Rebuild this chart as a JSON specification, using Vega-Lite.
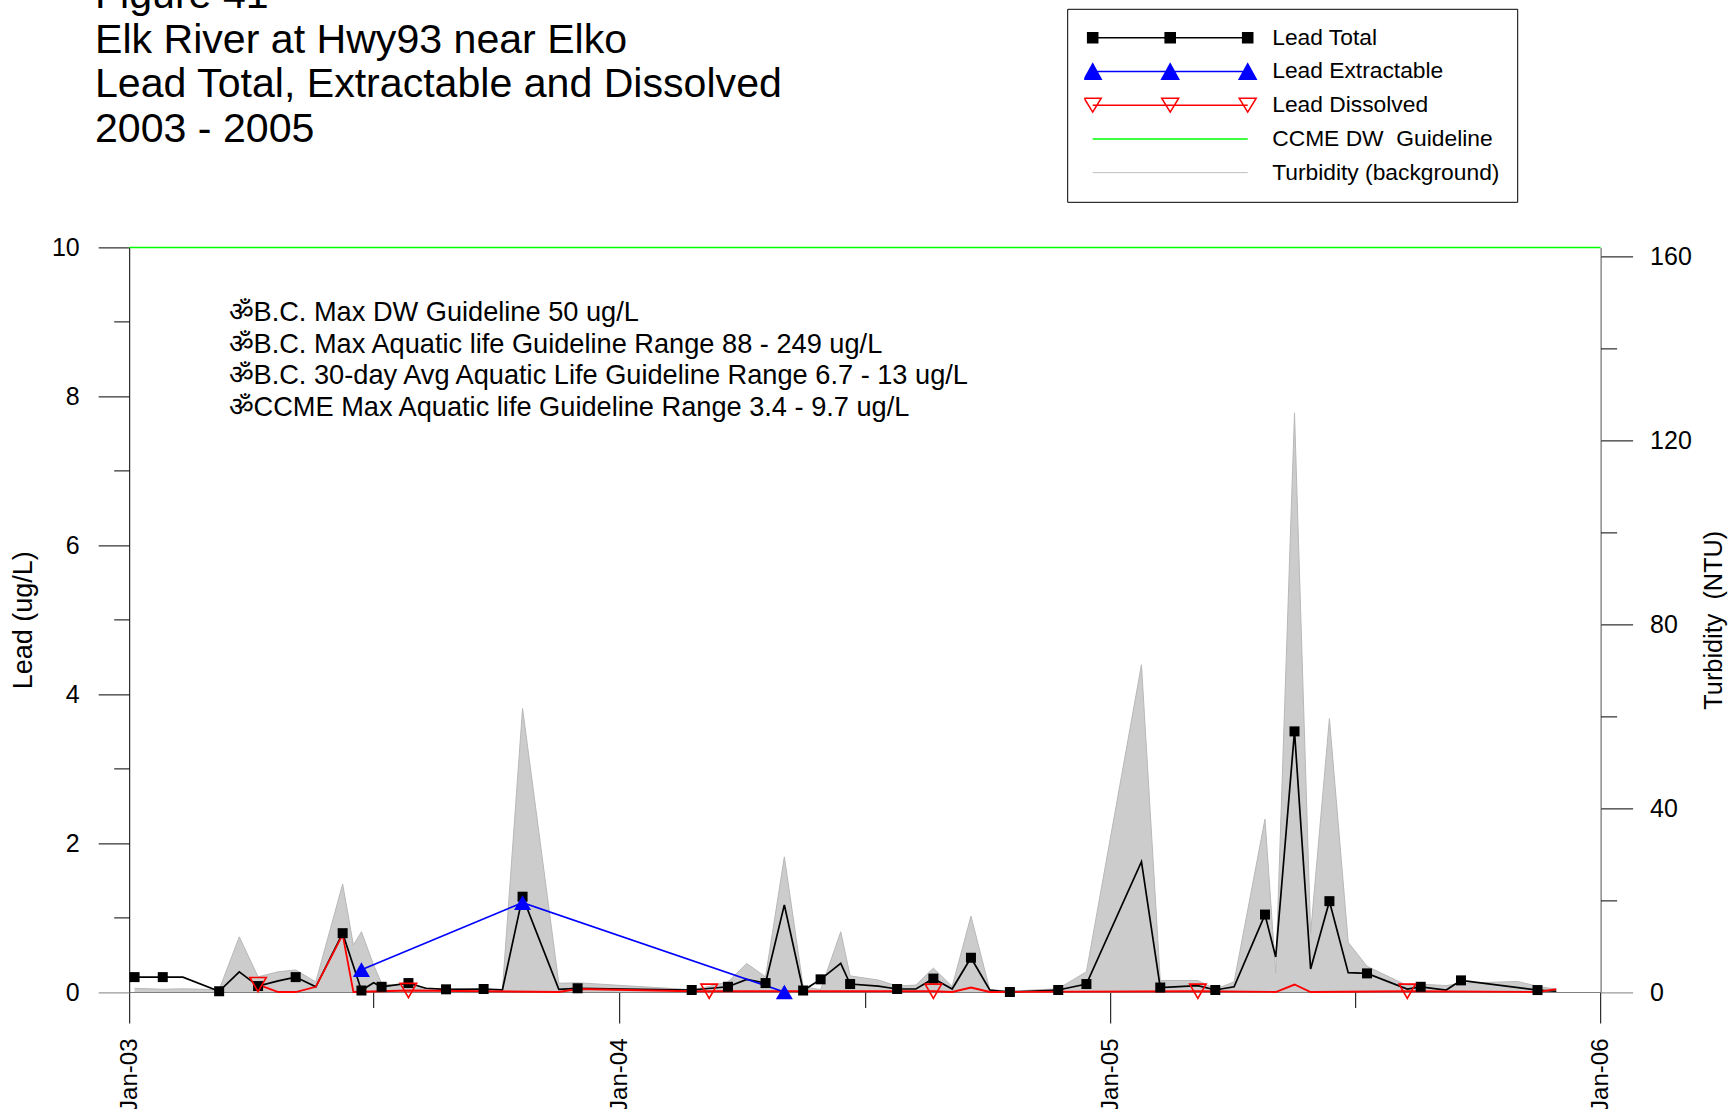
{
  "$schema": "https://vega.github.io/schema/vega-lite/v6.json",
  "width": 1471.4,
  "height": 744.6,
  "autosize": {"type": "none"},
  "padding": {"left": 129.2, "top": 247.4, "right": 131.4, "bottom": 117},
  "background": "white",
  "config": {
    "font": "Liberation Sans",
    "view": {"stroke": null},
    "axis": {"labelFont": "Liberation Sans", "titleFont": "Liberation Sans", "labelColor": "black", "titleColor": "black", "tickColor": "black", "domainColor": "black", "grid": false, "tickWidth": 1, "domainWidth": 1, "titleFontWeight": "normal"}
  },
  "title": {
    "text": ["Figure 41", "Elk River at Hwy93 near Elko", "Lead Total, Extractable and Dissolved", "2003 - 2005"],
    "anchor": "start", "frame": "group", "orient": "top",
    "font": "Liberation Sans", "fontSize": 41.1, "fontWeight": "normal", "lineHeight": 44.7,
    "color": "black", "dx": -34.2, "offset": 0, "dy": 143
  },
  "datasets": {
    "obs": [
      {"date": "2003-01-05", "total": 0.2, "symbol": true, "turbidity": 0.8},
      {"date": "2003-01-26", "total": 0.2, "symbol": true, "turbidity": 0.6},
      {"date": "2003-02-10", "total": 0.2, "symbol": false, "turbidity": 0.7},
      {"date": "2003-03-09", "total": 0.01, "symbol": true, "turbidity": 0.5},
      {"date": "2003-03-24", "total": 0.27, "symbol": false, "turbidity": 12.0},
      {"date": "2003-04-07", "total": 0.08, "symbol": true, "turbidity": 3.3, "dissolved": 0.1, "dsymbol": true},
      {"date": "2003-04-22", "total": 0.15, "symbol": false, "turbidity": 4.4, "dissolved": 0.0},
      {"date": "2003-05-05", "total": 0.2, "symbol": true, "turbidity": 4.8, "dissolved": 0.0},
      {"date": "2003-05-20", "total": 0.07, "symbol": false, "turbidity": 2.2, "dissolved": 0.07},
      {"date": "2003-06-09", "total": 0.79, "symbol": true, "turbidity": 23.5, "dissolved": 0.77},
      {"date": "2003-06-17", "turbidity": 10.2, "dissolved": 0.0},
      {"date": "2003-06-23", "total": 0.02, "symbol": true, "turbidity": 13.1, "extractable": 0.3},
      {"date": "2003-07-02", "total": 0.125, "symbol": false, "turbidity": 5.9},
      {"date": "2003-07-08", "total": 0.07, "symbol": true, "turbidity": 1.9},
      {"date": "2003-07-28", "total": 0.12, "symbol": true, "turbidity": 1.0, "dissolved": 0.02, "dsymbol": true},
      {"date": "2003-08-10", "total": 0.05, "symbol": false, "turbidity": 0.8},
      {"date": "2003-08-25", "total": 0.036, "symbol": true, "turbidity": 0.6},
      {"date": "2003-09-22", "total": 0.04, "symbol": true, "turbidity": 0.5},
      {"date": "2003-10-06", "total": 0.03, "symbol": false, "turbidity": 0.5},
      {"date": "2003-10-21", "total": 1.28, "symbol": true, "turbidity": 61.7, "extractable": 1.2},
      {"date": "2003-11-17", "total": 0.036, "symbol": false, "turbidity": 1.9, "dissolved": 0.0},
      {"date": "2003-12-01", "total": 0.05, "symbol": true, "turbidity": 2.0, "dissolved": 0.04},
      {"date": "2004-02-24", "total": 0.027, "symbol": true, "turbidity": 0.5, "dissolved": 0.01},
      {"date": "2004-03-08", "turbidity": 1.2, "dissolved": 0.01, "dsymbol": true},
      {"date": "2004-03-22", "total": 0.07, "symbol": true, "turbidity": 2.2},
      {"date": "2004-04-05", "total": 0.17, "symbol": false, "turbidity": 6.2},
      {"date": "2004-04-19", "total": 0.12, "symbol": true, "turbidity": 3.3},
      {"date": "2004-05-03", "total": 1.17, "symbol": false, "turbidity": 29.4, "extractable": 0.0},
      {"date": "2004-05-17", "total": 0.02, "symbol": true, "turbidity": 1.2},
      {"date": "2004-05-30", "total": 0.17, "symbol": true, "turbidity": 0.5},
      {"date": "2004-06-14", "total": 0.385, "symbol": false, "turbidity": 13.1},
      {"date": "2004-06-21", "total": 0.107, "symbol": true, "turbidity": 3.5},
      {"date": "2004-07-12", "total": 0.08, "symbol": false, "turbidity": 2.6},
      {"date": "2004-07-26", "total": 0.04, "symbol": true, "turbidity": 1.3},
      {"date": "2004-08-09", "total": 0.04, "symbol": false, "turbidity": 1.5},
      {"date": "2004-08-22", "total": 0.18, "symbol": true, "turbidity": 5.2, "dissolved": 0.01, "dsymbol": true},
      {"date": "2004-09-05", "total": 0.04, "symbol": false, "turbidity": 1.2, "dissolved": 0.0},
      {"date": "2004-09-19", "total": 0.46, "symbol": true, "turbidity": 16.5, "dissolved": 0.06},
      {"date": "2004-10-03", "total": 0.027, "symbol": false, "turbidity": 0.5, "dissolved": 0.0},
      {"date": "2004-10-18", "total": 0.0, "symbol": true, "turbidity": 0.2},
      {"date": "2004-11-23", "total": 0.027, "symbol": true, "turbidity": 0.7},
      {"date": "2004-12-14", "total": 0.107, "symbol": true, "turbidity": 4.4},
      {"date": "2005-01-24", "total": 1.75, "symbol": false, "turbidity": 71.2},
      {"date": "2005-02-07", "total": 0.06, "symbol": true, "turbidity": 2.5},
      {"date": "2005-03-07", "total": 0.085, "symbol": false, "turbidity": 2.5, "dissolved": 0.01, "dsymbol": true},
      {"date": "2005-03-20", "total": 0.027, "symbol": true, "turbidity": 0.6},
      {"date": "2005-04-03", "total": 0.07, "symbol": false, "turbidity": 2.2},
      {"date": "2005-04-26", "total": 1.04, "symbol": true, "turbidity": 37.6},
      {"date": "2005-05-04", "total": 0.47, "symbol": false, "turbidity": 4.2, "dissolved": 0.0},
      {"date": "2005-05-18", "total": 3.5, "symbol": true, "turbidity": 126.0, "dissolved": 0.1},
      {"date": "2005-05-30", "total": 0.31, "symbol": false, "turbidity": 12.8, "dissolved": 0.0},
      {"date": "2005-06-13", "total": 1.22, "symbol": true, "turbidity": 59.5},
      {"date": "2005-06-27", "total": 0.26, "symbol": false, "turbidity": 10.8},
      {"date": "2005-07-11", "total": 0.25, "symbol": true, "turbidity": 5.6},
      {"date": "2005-08-10", "total": 0.04, "symbol": false, "turbidity": 1.4, "dissolved": 0.01, "dsymbol": true},
      {"date": "2005-08-20", "total": 0.07, "symbol": true, "turbidity": 1.7},
      {"date": "2005-09-08", "total": 0.026, "symbol": false, "turbidity": 1.4},
      {"date": "2005-09-19", "total": 0.156, "symbol": true, "turbidity": 1.9},
      {"date": "2005-10-31", "turbidity": 2.3},
      {"date": "2005-11-15", "total": 0.026, "symbol": true, "turbidity": 1.25, "dissolved": 0.0},
      {"date": "2005-11-29", "total": 0.01, "symbol": false, "turbidity": 0.6, "dissolved": 0.04}
    ]
  },
  "data": {"name": "obs"},
  "layer": [
    {
      "layer": [
        {
          "mark": {"type": "area", "fill": "#cccccc", "stroke": null, "opacity": 1},
          "encoding": {
            "x": {"field": "date", "type": "temporal",
              "scale": {"type": "utc", "domain": [{"year": 2003, "month": 1, "date": 1, "utc": true}, {"year": 2006, "month": 1, "date": 1, "utc": true}]},
              "axis": {"orient": "bottom", "values": [{"year": 2003, "month": 1, "date": 1, "utc": true}, {"year": 2004, "month": 1, "date": 1, "utc": true}, {"year": 2005, "month": 1, "date": 1, "utc": true}, {"year": 2006, "month": 1, "date": 1, "utc": true}],
                "format": "%b-%y", "labelAngle": 270, "tickSize": 31, "labelPadding": 15, "labelFontSize": 24, "title": null, "domainColor": "#808080", "labelOverlap": false, "labelFlush": false}},
            "y": {"field": "turbidity", "type": "quantitative",
              "scale": {"domain": [0, 162], "nice": false, "zero": true},
              "axis": {"orient": "right", "values": [0, 40, 80, 120, 160], "tickSize": 32, "labelPadding": 17, "labelFontSize": 25,
                "title": "Turbidity\u00a0 (NTU)", "titleFontSize": 25.3, "titleAngle": 270, "titleBaseline": "top", "titlePadding": 10, "domainColor": "#505050",
                "tickColor": {"condition": {"test": "datum.value === 0", "value": "#808080"}, "value": "black"}}}
          }
        },
        {
          "mark": {"type": "line", "stroke": "#b8b8b8", "strokeWidth": 1},
          "encoding": {
            "x": {"field": "date", "type": "temporal", "scale": {"type": "utc"},
              "axis": {"orient": "bottom", "values": [{"year": 2003, "month": 7, "date": 2, "utc": true}, {"year": 2004, "month": 7, "date": 2, "utc": true}, {"year": 2005, "month": 7, "date": 2, "utc": true}],
                "tickSize": 15.5, "labels": false, "domain": false, "title": null}},
            "y": {"field": "turbidity", "type": "quantitative",
              "axis": {"orient": "right", "values": [20, 60, 100, 140], "tickSize": 16, "labels": false, "domain": false, "title": null}}
          }
        }
      ],
      "resolve": {"axis": {"x": "independent", "y": "independent"}}
    },
    {
      "layer": [
        {
          "transform": [{"filter": "isValid(datum.total)"}],
          "mark": {"type": "line", "strokeWidth": 1.7},
          "encoding": {
            "x": {"field": "date", "type": "temporal", "scale": {"type": "utc"}, "axis": null},
            "y": {"field": "total", "type": "quantitative",
              "scale": {"domain": [0, 10], "nice": false},
              "axis": {"orient": "left", "values": [0, 2, 4, 6, 8, 10], "tickSize": 31, "labelPadding": 19, "labelFontSize": 25,
                "title": "Lead (ug/L)", "titleFontSize": 27, "titlePadding": 14,
                "tickColor": {"condition": {"test": "datum.value === 0", "value": "#808080"}, "value": "black"}}},
            "color": {"datum": "Lead Total",
              "scale": {"domain": ["Lead Total", "Lead Extractable", "Lead Dissolved", "CCME DW\u00a0 Guideline", "Turbidity (background)"],
                "range": ["black", "blue", "red", "#00ff00", "#c0c0c0"]},
              "legend": {
                "orient": "none", "legendX": 938, "legendY": -238.6, "title": null,
                "strokeColor": "black", "fillColor": "white", "padding": 17, "cornerRadius": 0,
                "labelFont": "Liberation Sans", "labelFontSize": 22.8, "labelColor": "black", "labelLimit": 400, "labelOffset": 24,
                "rowPadding": 9.7, "clipHeight": 24, "symbolSize": 24025,
                "encode": {
                  "symbols": {
                    "update": {
                      "x": {"value": 86},
                      "y": {"value": 12},
                      "size": {"value": 24025},
                      "shape": {"signal": "datum.value === 'Lead Total' ? 'M-1,0L1,0M-1.065,-0.065L-0.935,-0.065L-0.935,0.065L-1.065,0.065ZM-0.065,-0.065L0.065,-0.065L0.065,0.065L-0.065,0.065ZM0.935,-0.065L1.065,-0.065L1.065,0.065L0.935,0.065Z' : datum.value === 'Lead Extractable' ? 'M-1,0L1,0M-1,-0.1L-0.89,0.1L-1.11,0.1ZM0,-0.1L0.11,0.1L-0.11,0.1ZM1,-0.1L1.11,0.1L0.89,0.1Z' : datum.value === 'Lead Dissolved' ? 'M-1,0L1,0M-1,0.09L-0.89,-0.09L-1.11,-0.09ZM0,0.09L0.11,-0.09L-0.11,-0.09ZM1,0.09L1.11,-0.09L0.89,-0.09Z' : 'M-1,0L1,0'"},
                      "fill": {"signal": "datum.value === 'Lead Total' ? 'black' : datum.value === 'Lead Extractable' ? 'blue' : 'transparent'"},
                      "stroke": {"signal": "datum.value === 'Lead Total' ? 'black' : datum.value === 'Lead Extractable' ? 'blue' : datum.value === 'Lead Dissolved' ? 'red' : datum.value === 'Turbidity (background)' ? '#c0c0c0' : '#00ff00'"},
                      "strokeWidth": {"signal": "datum.value === 'Turbidity (background)' ? 1 : 1.5"},
                      "opacity": {"value": 1},
                      "fillOpacity": {"value": 1},
                      "strokeOpacity": {"value": 1}
                    }
                  },
                  "labels": {
                    "update": {
                      "x": {"value": 188},
                      "y": {"value": 12}
                    }
                  }
                }
              }}
          }
        },
        {
          "transform": [{"filter": "isValid(datum.dissolved)"}],
          "mark": {"type": "line", "stroke": "red", "strokeWidth": 1.8},
          "encoding": {
            "x": {"field": "date", "type": "temporal", "scale": {"type": "utc"}, "axis": null},
            "y": {"field": "dissolved", "type": "quantitative",
              "axis": {"orient": "left", "values": [1, 3, 5, 7, 9], "tickSize": 15.5, "labels": false, "domain": false, "title": null}}
          }
        },
        {
          "transform": [{"filter": "isValid(datum.extractable)"}],
          "mark": {"type": "line", "stroke": "blue", "strokeWidth": 1.6},
          "encoding": {
            "x": {"field": "date", "type": "temporal", "scale": {"type": "utc"}, "axis": null},
            "y": {"field": "extractable", "type": "quantitative", "axis": null}
          }
        },
        {
          "transform": [{"filter": "datum.symbol === true"}],
          "mark": {"type": "point", "shape": "square", "filled": true, "color": "black", "size": 100, "opacity": 1},
          "encoding": {
            "x": {"field": "date", "type": "temporal", "scale": {"type": "utc"}, "axis": null},
            "y": {"field": "total", "type": "quantitative", "axis": null}
          }
        },
        {
          "transform": [{"filter": "datum.dsymbol === true"}],
          "mark": {"type": "point", "shape": "triangle-down", "filled": false, "stroke": "red", "strokeWidth": 1.6, "size": 270, "opacity": 1},
          "encoding": {
            "x": {"field": "date", "type": "temporal", "scale": {"type": "utc"}, "axis": null},
            "y": {"field": "dissolved", "type": "quantitative", "axis": null}
          }
        },
        {
          "transform": [{"filter": "isValid(datum.extractable)"}],
          "mark": {"type": "point", "shape": "triangle-up", "filled": true, "color": "blue", "size": 290, "opacity": 1},
          "encoding": {
            "x": {"field": "date", "type": "temporal", "scale": {"type": "utc"}, "axis": null},
            "y": {"field": "extractable", "type": "quantitative", "axis": null}
          }
        },
        {
          "data": {"values": [{}]},
          "mark": {"type": "rule", "stroke": "#00ff00", "strokeWidth": 1.5},
          "encoding": {
            "y": {"datum": 10, "type": "quantitative", "axis": null}
          }
        },
        {
          "data": {"values": [{}]},
          "mark": {"type": "text", "align": "left", "baseline": "middle", "font": "Liberation Sans", "fontSize": 27.2, "lineHeight": 31.7, "color": "black",
            "text": ["ॐB.C. Max DW Guideline 50 ug/L", "ॐB.C. Max Aquatic life Guideline Range 88 - 249 ug/L", "ॐB.C. 30-day Avg Aquatic Life Guideline Range 6.7 - 13 ug/L", "ॐCCME Max Aquatic life Guideline Range 3.4 - 9.7 ug/L"]},
          "encoding": {
            "x": {"datum": {"year": 2003, "month": 3, "date": 16, "utc": true}, "type": "temporal", "scale": {"type": "utc"}, "axis": null},
            "y": {"datum": 9.12, "type": "quantitative", "axis": null}
          }
        }
      ],
      "resolve": {"axis": {"y": "independent"}}
    }
  ],
  "resolve": {"scale": {"y": "independent"}, "axis": {"x": "independent", "y": "independent"}}
}
